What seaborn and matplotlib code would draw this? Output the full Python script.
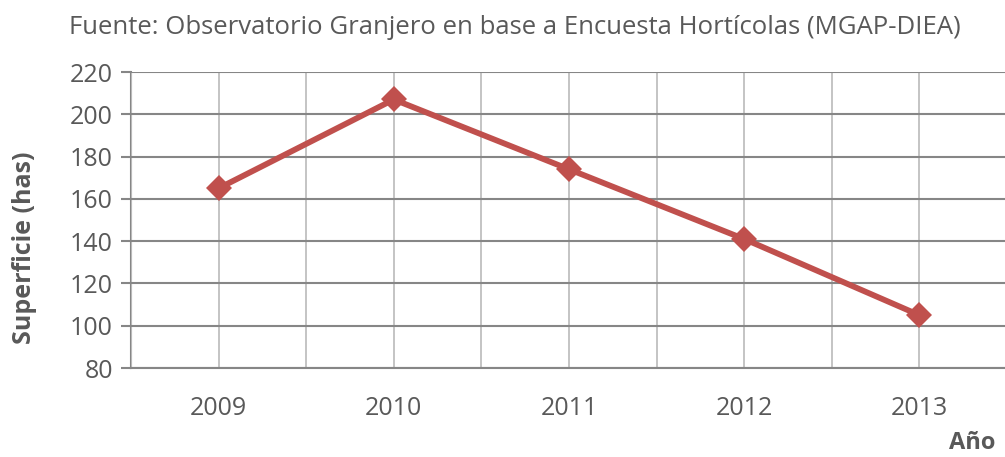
import matplotlib
matplotlib.use('Agg')
import matplotlib.pyplot as plt
import seaborn as sns
import pandas as pd
from matplotlib.ticker import MultipleLocator

years = ['2009', '2010', '2011', '2012', '2013']
superficie = [165, 207, 174, 141, 105]

df = pd.DataFrame({'year': years, 'sup': superficie})

sns.set_style('white')
plt.rcParams['font.family'] = ['Open Sans', 'DejaVu Sans']

fig = plt.figure(figsize=(10.05, 4.57), dpi=100)
ax = fig.add_axes([131 / 1005, 89 / 457, 876 / 1005, 296 / 457])

sns.lineplot(x='year', y='sup', data=df, ax=ax, color='#c0504d', linewidth=4.2,
             marker='D', markersize=13, markeredgewidth=0, sort=False, zorder=5)

ax.set_xlim(-0.5, 4.5)
ax.set_ylim(80, 220)
ax.yaxis.set_major_locator(MultipleLocator(20))
ax.xaxis.set_minor_locator(MultipleLocator(1, offset=0.5))

# rejilla
ax.grid(axis='y', color='#868686', linewidth=1.5)
ax.grid(axis='x', which='both', color='#bfbfbf', linewidth=1.3)
ax.set_axisbelow(True)

for s in ['top', 'right']:
    ax.spines[s].set_visible(False)
ax.spines['left'].set_color('#868686')
ax.spines['left'].set_linewidth(1.5)
ax.spines['bottom'].set_color('#868686')
ax.spines['bottom'].set_linewidth(1.5)
ax.spines['left'].set_zorder(0)

ax.tick_params(axis='x', which='major', length=0, pad=20, labelsize=18, labelcolor='#595959')
ax.tick_params(axis='x', which='minor', length=7, width=1.5, color='#868686', direction='out')
ax.tick_params(axis='y', length=7, width=1.5, color='#868686', direction='out',
               labelsize=18, labelcolor='#595959', left=True, pad=6)

ax.set_xlabel('')
ax.set_ylabel('')

fig.text(0.512, 0.939, 'Fuente: Observatorio Granjero en base a Encuesta Hortícolas (MGAP-DIEA)',
         ha='center', va='center', fontsize=18.5, color='#595959')
fig.text(0.024, 0.457, 'Superficie (has)', rotation=90, ha='center', va='center',
         fontsize=18, fontweight='bold', color='#595959')
fig.text(0.99, 0.03, 'Año', ha='right', va='center', fontsize=17,
         fontweight='bold', color='#595959')

fig.savefig('out.png', dpi=100)
